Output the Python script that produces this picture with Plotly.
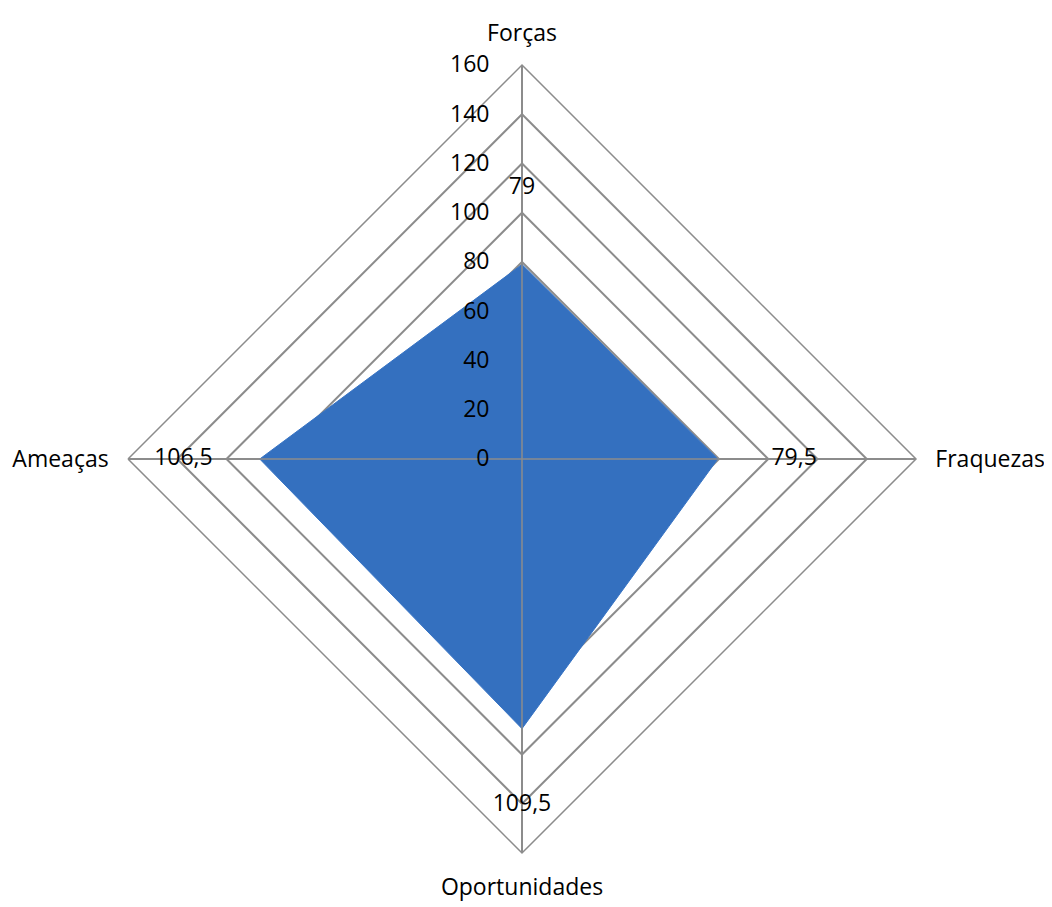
import plotly.graph_objects as go

categories = ["Forças", "Fraquezas", "Oportunidades", "Ameaças"]
values = [79, 79.5, 109.5, 106.5]
value_labels = ["79", "79,5", "109,5", "106,5"]
r_max = 160
r_step = 20
label_offset = 31

font_family = "Open Sans, Noto Sans, Liberation Sans, sans-serif"
grid_color = "#8c8c8c"

fig = go.Figure()

# data polygon
fig.add_trace(go.Scatterpolar(
    r=values + [values[0]],
    theta=categories + [categories[0]],
    mode="lines",
    fill="toself",
    fillcolor="#3470bf",
    line=dict(color="#3874c4", width=1),
    hoverinfo="skip",
    showlegend=False,
))

# spokes drawn above the polygon
spoke_r, spoke_t = [], []
for c in categories:
    spoke_r += [0, r_max, None]
    spoke_t += [c, c, None]
fig.add_trace(go.Scatterpolar(
    r=spoke_r, theta=spoke_t, mode="lines",
    line=dict(color=grid_color, width=1.5),
    hoverinfo="skip", showlegend=False,
))

# data labels
fig.add_trace(go.Scatterpolar(
    r=[v + label_offset for v in values],
    theta=categories,
    mode="text",
    text=value_labels,
    textfont=dict(family=font_family, size=23, color="black"),
    hoverinfo="skip",
    showlegend=False,
))

W, H = 1052, 907
cx, cy, rad = 514, 451, 394
fig.update_layout(
    width=W, height=H,
    margin=dict(l=0, r=0, t=0, b=0),
    paper_bgcolor="white",
    plot_bgcolor="white",
    font=dict(family=font_family, size=23, color="black"),
    polar=dict(
        domain=dict(x=[(cx - rad) / W, (cx + rad) / W],
                    y=[(H - cy - rad) / H, (H - cy + rad) / H]),
        bgcolor="white",
        gridshape="linear",
        radialaxis=dict(
            range=[0, r_max], dtick=r_step, tick0=0,
            angle=90, tickangle=90, side="counterclockwise",
            showline=False,
            ticks="outside", ticklen=24, tickcolor="rgba(0,0,0,0)",
            gridcolor=grid_color, gridwidth=1.5,
            tickfont=dict(family=font_family, size=23, color="black"),
        ),
        angularaxis=dict(
            rotation=90, direction="clockwise",
            showline=True, linecolor=grid_color, linewidth=1.5,
            gridcolor=grid_color, gridwidth=1.5,
            ticks="outside", ticklen=14, tickcolor="rgba(0,0,0,0)",
            tickfont=dict(family=font_family, size=23, color="black"),
        ),
    ),
)

fig.write_html("out.html")
